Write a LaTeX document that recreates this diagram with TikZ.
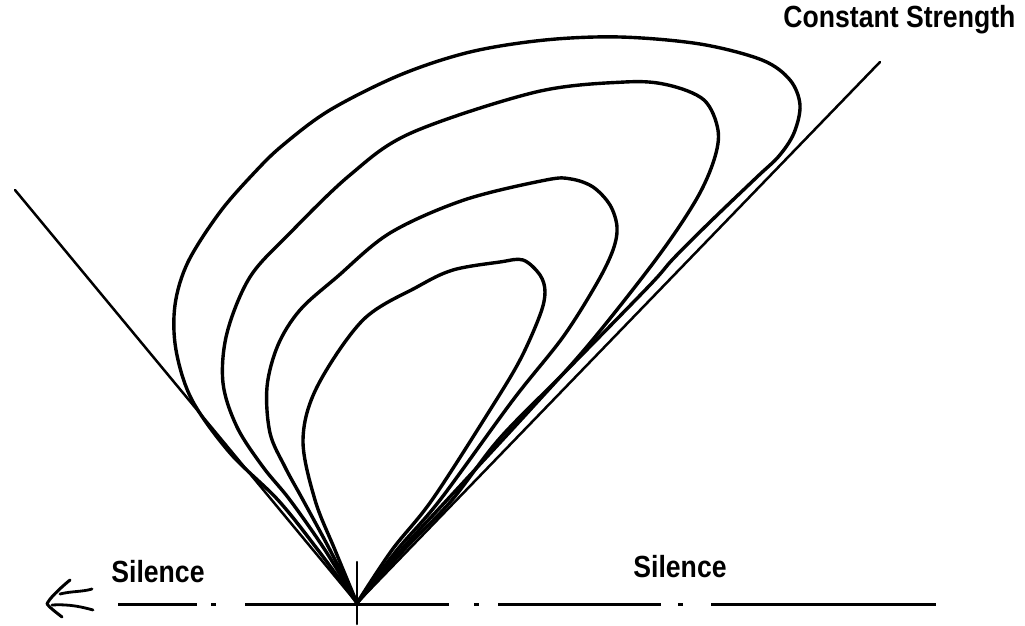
\documentclass[tikz,border=0pt]{standalone}
\usepackage{fontspec}
\setmainfont{Liberation Sans}
\newcommand{\tallbold}[1]{\scalebox{1}[1.15]{#1}}
\begin{document}
\begin{tikzpicture}[x=0.5pt,y=-0.5pt,
  contour/.style={line width=1.7pt, line join=round, line cap=round},
  boundary/.style={line width=1.25pt, line cap=round},
  axisline/.style={line width=1.5pt},
  lbl/.style={font=\bfseries\fontsize{13.3}{16}\selectfont, inner sep=0pt}]
\useasboundingbox (0,0) rectangle (1025,626);
\coordinate (O) at (357,603);
\coordinate (Ltop) at (15,190);
\coordinate (Rtop) at (880,62);
% boundary lines
\draw[boundary] (Ltop) -- (O);
\draw[boundary] (Rtop) -- (O);
% contours of constant strength
\draw[contour] plot[smooth, tension=0.55] coordinates {(357,603) (318,550) (278,500) (230,453) (192,400) (176,350) (175,305) (188,262) (220,212) (255,172) (283,145) (330,110) (400,75) (470,52) (545,40) (620,37) (700,44) (762,60) (790,80) (800,105) (794,133) (779,156) (757,177) (710,222) (673,259) (650,285) (567,370) (500,438) (452,500) (404,550) (357,603)};
\draw[contour] plot[smooth, tension=0.55] coordinates {(357,603) (325,550) (290,500) (263,467) (237,427) (223,383) (227,333) (250,277) (290,233) (350,175) (411,133) (536,92) (625,82) (668,85) (704,100) (718,130) (714,160) (696,200) (657,258) (590,343) (530,410) (447,500) (401,550) (357,603)};
\draw[contour] plot[smooth, tension=0.55] coordinates {(357,603) (330,550) (303,500) (285,467) (270,433) (267,387) (278,345) (300,310) (337,277) (390,233) (464,200) (546,180) (571,179) (593,187) (610,205) (617,227) (613,250) (597,283) (563,337) (513,400) (440,500) (397,550) (357,603)};
\draw[contour] plot[smooth, tension=0.55] coordinates {(357,603) (335,550) (315,500) (303,440) (317,387) (363,320) (417,287) (453,270) (500,262) (523,260) (540,275) (545,292) (540,315) (520,360) (490,410) (432,500) (392,550) (357,603)};
% dash-dot base line
\draw[axisline] (118,604) -- (197,604);
\draw[axisline] (211,604) -- (216,604);
\draw[axisline] (245,604) -- (449,604);
\draw[axisline] (474,604) -- (479,604);
\draw[axisline] (498,604) -- (661,604);
\draw[axisline] (678,604) -- (683,604);
\draw[axisline] (711,604) -- (936,604);
% tick at origin
\draw[boundary] (357,562) -- (357,624);
% hand-drawn arrow
\draw[line width=1.5pt, line cap=round, line join=round] (70,580) .. controls (58,590) and (49,599) .. (47,604) .. controls (50,608) and (57,613) .. (62,617);
\draw[line width=1.4pt, line cap=round] (60,594) .. controls (72,591) and (82,592) .. (92,589);
\draw[line width=1.4pt, line cap=round] (52,605) .. controls (70,604) and (82,607) .. (93,610);
% labels
\node[lbl] (s1) at (158,572) {\tallbold{Silence}};
\node[lbl] (s2) at (680,567) {\tallbold{Silence}};
\node[lbl, anchor=west] (cs) at (783,20) {\tallbold{Constant Strength}};
\end{tikzpicture}
\end{document}
